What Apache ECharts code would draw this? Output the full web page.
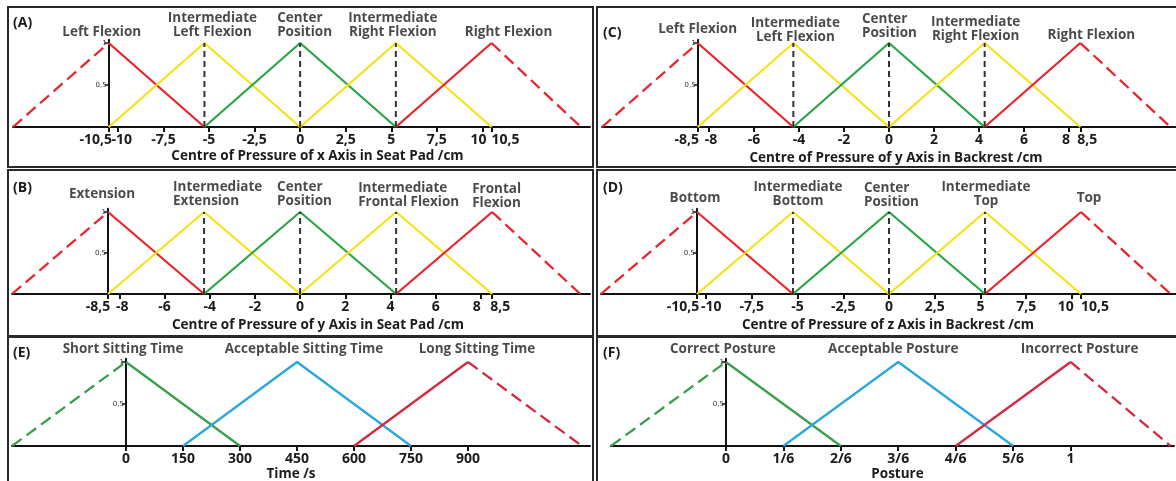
<!DOCTYPE html>
<html><head><meta charset="utf-8">
<script src="https://cdn.jsdelivr.net/npm/echarts@6/dist/echarts.min.js"></script>
<style>html,body{margin:0;background:#fff}#c{width:1176px;height:481px}</style>
</head><body><div id="c"></div><script>
// ---------- data ----------
// (A)
const aTerms = ['Left Flexion', 'Intermediate\nLeft Flexion', 'Center\nPosition', 'Intermediate\nRight Flexion', 'Right Flexion'];
const aSets = [[-15.75, -10.5, -5.25], [-10.5, -5.25, 0], [-5.25, 0, 5.25], [0, 5.25, 10.5], [5.25, 10.5, 15.4]];
const aGuides = [-5.25, 0, 5.25];
const aTicks = [-10.5, -10, -7.5, -5, -2.5, 0, 2.5, 5, 7.5, 10, 10.5];
const aAxisName = 'Centre of Pressure of x Axis in Seat Pad /cm';
// (B)
const bTerms = ['Extension', 'Intermediate\nExtension', 'Center\nPosition', 'Intermediate\nFrontal Flexion', 'Frontal\nFlexion'];
const bSets = [[-12.75, -8.5, -4.25], [-8.5, -4.25, 0], [-4.25, 0, 4.25], [0, 4.25, 8.5], [4.25, 8.5, 12.4]];
const bGuides = [-4.25, 0, 4.25];
const bTicks = [-8.5, -8, -6, -4, -2, 0, 2, 4, 6, 8, 8.5];
const bAxisName = 'Centre of Pressure of y Axis in Seat Pad /cm';
// (C)
const cTerms = ['Left Flexion', 'Intermediate\nLeft Flexion', 'Center\nPosition', 'Intermediate\nRight Flexion', 'Right Flexion'];
const cSets = [[-12.75, -8.5, -4.25], [-8.5, -4.25, 0], [-4.25, 0, 4.25], [0, 4.25, 8.5], [4.25, 8.5, 12.5]];
const cGuides = [-4.25, 0, 4.25];
const cTicks = [-8.5, -8, -6, -4, -2, 0, 2, 4, 6, 8, 8.5];
const cAxisName = 'Centre of Pressure of y Axis in Backrest /cm';
// (D)
const dTerms = ['Bottom', 'Intermediate\nBottom', 'Center\nPosition', 'Intermediate\nTop', 'Top'];
const dSets = [[-15.75, -10.5, -5.25], [-10.5, -5.25, 0], [-5.25, 0, 5.25], [0, 5.25, 10.5], [5.25, 10.5, 15.4]];
const dGuides = [-5.25, 0, 5.25];
const dTicks = [-10.5, -10, -7.5, -5, -2.5, 0, 2.5, 5, 7.5, 10, 10.5];
const dAxisName = 'Centre of Pressure of z Axis in Backrest /cm';
// (E)
const eTerms = ['Short Sitting Time', 'Acceptable Sitting Time', 'Long Sitting Time'];
const eSets = [[-300, 0, 300], [150, 450, 750], [600, 900, 1200]];
const eGuides = [];
const eTicks = [0, 150, 300, 450, 600, 750, 900];
const eAxisName = 'Time /s';
// (F)
const fTerms = ['Correct Posture', 'Acceptable Posture', 'Incorrect Posture'];
const fSets = [[-1/3, 0, 1/3], [1/6, 3/6, 5/6], [4/6, 1, 1.29]];
const fGuides = [];
const fTicks = [0, 1/6, 2/6, 3/6, 4/6, 5/6, 1];
const fTickLabels = ['0', '1/6', '2/6', '3/6', '4/6', '5/6', '1'];
const fAxisName = 'Posture';
// membership grades of each triangle (foot, peak, foot) and y ticks
const grade = [0, 1, 0];
const yTicks = [0.5, 1];

const panels = [
  {terms: aTerms, sets: aSets, guides: aGuides, ticks: aTicks, name: aAxisName},
  {terms: bTerms, sets: bSets, guides: bGuides, ticks: bTicks, name: bAxisName},
  {terms: cTerms, sets: cSets, guides: cGuides, ticks: cTicks, name: cAxisName},
  {terms: dTerms, sets: dSets, guides: dGuides, ticks: dTicks, name: dAxisName},
  {terms: eTerms, sets: eSets, guides: eGuides, ticks: eTicks, name: eAxisName},
  {terms: fTerms, sets: fSets, guides: fGuides, ticks: fTicks, tickLabels: fTickLabels, name: fAxisName}
];

// ---------- styles / layout ----------
const FONT = "'Open Sans','Noto Sans',sans-serif";
const RED = '#e8262d', YEL = '#f4e31a', GRN = '#2da64a', BLU = '#2aa6de', RED2 = '#d32a3f', GRN2 = '#3a9f4c';
const TXT = '#1b1b1b';
const style = [
  {letter: '(A)', lp: [13, 16], left: 13, width: 577, axisY: 127, peakY: 43, range: [-15.75, 15.9],
   colors: [RED, YEL, GRN, YEL, RED], nameGap: 22, nameShift: 16, edge: [-13, 4, -4, 14],
   lab: [{dx: -7}, {dx: 8}, {dx: -23, align: 'left'}, {dx: -3}, {dx: 17}]},
  {letter: '(B)', lp: [13, 181], left: 12, width: 578, axisY: 294, peakY: 212, range: [-12.75, 12.83],
   colors: [RED, YEL, GRN, YEL, RED], nameGap: 24, nameShift: 17, edge: [-10, 3, -4, 8],
   lab: [{dx: -6, dy: -7}, {dx: -31, align: 'left'}, {dx: -23, align: 'left'}, {dx: -38, dy: 1, align: 'left'}, {dx: -20, dy: 2, align: 'left'}]},
  {letter: '(C)', lp: [603, 26], left: 602, width: 574, axisY: 127, peakY: 43, range: [-12.75, 12.75],
   colors: [RED, YEL, GRN, YEL, RED], nameGap: 24, nameShift: 7, edge: [-11, 2, -3, 7],
   lab: [{dx: 0, dy: -3}, {dx: 2, dy: 5}, {dx: -27, dy: 1, align: 'left'}, {dx: -9, dy: 4}, {dx: 11, dy: 3}]},
  {letter: '(D)', lp: [603, 181], left: 601, width: 576, axisY: 294, peakY: 212, range: [-15.75, 15.75],
   colors: [RED, YEL, GRN, YEL, RED], nameGap: 24, nameShift: -1, edge: [-14, 5, -6, 14],
   lab: [{dx: -2, dy: -3}, {dx: 5}, {dx: -25, dy: 1, align: 'left'}, {dx: 1}, {dx: 8, dy: -3}]},
  {letter: '(E)', lp: [13, 346], left: 12, width: 578, axisY: 446, peakY: 362, range: [-300, 1221],
   colors: [GRN2, BLU, RED2], nameGap: 21, nameShift: -10, edge: null,
   lab: [{dx: -3, dy: -2}, {dx: 7, dy: -2}, {dx: 9, dy: -2}]},
  {letter: '(F)', lp: [603, 346], left: 611, width: 563, axisY: 446, peakY: 362, range: [-1/3, 1.3],
   colors: [GRN2, BLU, RED2], nameGap: 21, nameShift: 5, edge: null,
   lab: [{dx: -3, dy: -2}, {dx: -5, dy: -2}, {dx: 9, dy: -2}]}
];
const YMAX = 1.04;
const boxes = [
  [8, 7, 585, 160], [8, 170, 585, 166], [8, 337, 585, 150],
  [597, 7, 585, 160], [597, 170, 585, 166], [597, 337, 585, 150]
];

// ---------- build option ----------
const grid = [], xAxis = [], extraX = [], yAxis = [], series = [], title = [];
function fmt(v) { return String(v).replace('.', ','); }
function pad(d) { return d < 0 ? [0, -2 * d, 0, 0] : [0, 0, 0, 2 * d]; }
function lineSeries(i, data, color, type, width) {
  return {type: 'line', xAxisIndex: i, yAxisIndex: i, data: data, symbol: 'none', silent: true,
    animation: false, lineStyle: {color: color, width: width || 2.3, type: type}, z: 3};
}
const labelText = {fontFamily: FONT, fontWeight: 'bold', fontSize: 14, color: TXT};
panels.forEach((p, i) => {
  const s = style[i];
  const h = (s.axisY - s.peakY) * YMAX;
  grid.push({left: s.left, width: s.width, top: s.axisY - h, height: h, outerBoundsMode: 'none', containLabel: false});
  const t = p.ticks;
  const n = t.length;
  // outer/inner edge labels sit close together: inner ones go on a twin label axis
  const inner = s.edge ? [t[1], t[n - 2]] : [];
  const mainLabels = t.filter(v => inner.indexOf(v) < 0);
  const label = (v) => {
    const idx = t.findIndex(x => Math.abs(x - v) < 1e-9);
    return p.tickLabels ? p.tickLabels[idx] : fmt(v);
  };
  xAxis.push({
    type: 'value', gridIndex: i, min: s.range[0], max: s.range[1], position: 'bottom',
    axisLine: {show: true, onZero: false, lineStyle: {color: '#111', width: 2}},
    axisTick: {show: true, customValues: t, length: 5, lineStyle: {color: '#111', width: 2}},
    splitLine: {show: false},
    axisLabel: Object.assign({
      show: true, customValues: mainLabels, margin: 6, hideOverlap: false, showMinLabel: true, showMaxLabel: true,
      rich: s.edge ? {lo: {padding: pad(s.edge[0])}, ro: {padding: pad(s.edge[3])}} : {},
      formatter: function (v) {
        const txt = label(v);
        if (!s.edge) return txt;
        if (Math.abs(v - t[0]) < 1e-9) return '{lo|' + txt + '}';
        if (Math.abs(v - t[n - 1]) < 1e-9) return '{ro|' + txt + '}';
        return txt;
      }
    }, labelText),
    name: p.name, nameLocation: 'middle', nameGap: s.nameGap,
    nameTextStyle: {fontFamily: FONT, fontWeight: 'bold', fontSize: 13.5, color: TXT, padding: pad(s.nameShift)}
  });
  if (s.edge) {
    extraX.push({
      type: 'value', gridIndex: i, min: s.range[0], max: s.range[1], position: 'bottom', offset: 0,
      axisLine: {show: false, onZero: false}, axisTick: {show: false}, splitLine: {show: false},
      axisLabel: Object.assign({
        show: true, customValues: inner, margin: 6, hideOverlap: false, showMinLabel: true, showMaxLabel: true,
        rich: {li: {padding: pad(s.edge[1])}, ri: {padding: pad(s.edge[2])}},
        formatter: function (v) { return (v < 0 ? '{li|' : '{ri|') + label(v) + '}'; }
      }, labelText)
    });
  }
  yAxis.push({
    type: 'value', gridIndex: i, min: 0, max: YMAX, position: 'left',
    axisLine: {show: true, onZero: false, lineStyle: {color: '#111', width: 2}},
    axisTick: {show: true, customValues: yTicks, length: 4, lineStyle: {color: '#111', width: 1.5}},
    axisLabel: {show: true, customValues: yTicks, formatter: fmt, fontSize: 7, margin: 2,
      showMinLabel: true, showMaxLabel: true, hideOverlap: false,
      color: '#333', fontFamily: "'DejaVu Sans',sans-serif"},
    splitLine: {show: false}
  });
  const last = p.sets.length - 1;
  p.sets.forEach((set, j) => {
    const pts = set.map((x, k) => [x, grade[k]]);
    const c = s.colors[j];
    if (j === 0) {
      series.push(lineSeries(i, pts.slice(0, 2), c, [12, 6]));
      series.push(lineSeries(i, pts.slice(1), c, 'solid'));
    } else if (j === last) {
      series.push(lineSeries(i, pts.slice(0, 2), c, 'solid'));
      series.push(lineSeries(i, pts.slice(1), c, [12, 6]));
    } else {
      series.push(lineSeries(i, pts, c, 'solid'));
    }
  });
  p.guides.forEach(g => series.push(lineSeries(i, [[g, grade[0]], [g, grade[1]]], '#333', [6, 4], 2)));
  series.push({
    type: 'scatter', xAxisIndex: i, yAxisIndex: i, symbolSize: 1, silent: true, animation: false,
    itemStyle: {color: 'rgba(0,0,0,0)'}, z: 5,
    data: p.sets.map((set, j) => {
      const l = s.lab[j] || {};
      const o = {value: [set[1], grade[1]], name: p.terms[j], label: {offset: [l.dx || 0, l.dy || 0]}};
      if (l.align) o.label.align = l.align;
      return o;
    }),
    label: {show: true, position: 'top', distance: 4, formatter: '{b}', fontFamily: FONT,
      fontWeight: 'bold', fontSize: 13.5, lineHeight: 13.5, color: TXT}
  });
  title.push({text: s.letter, left: s.lp[0], top: s.lp[1], padding: 0,
    textStyle: {fontFamily: FONT, fontWeight: 'bold', fontSize: 14, color: TXT}});
});

const graphic = boxes.map(b => ({type: 'rect', silent: true, z: 0,
  shape: {x: b[0], y: b[1], width: b[2], height: b[3]},
  style: {fill: 'none', stroke: '#2a2a2a', lineWidth: 2}}));

const chart = echarts.init(document.getElementById('c'), null, {renderer: 'canvas'});
chart.setOption({animation: false, backgroundColor: '#fff', title, grid,
  xAxis: xAxis.concat(extraX), yAxis, series, graphic});
// place each membership axis at its first peak, measured through the x scale
const offs = panels.map((p, i) =>
  chart.convertToPixel({xAxisIndex: i}, style[i].range[0]) - chart.convertToPixel({xAxisIndex: i}, p.sets[0][1]));
chart.setOption({yAxis: offs.map(o => ({offset: o}))});
</script></body></html>
